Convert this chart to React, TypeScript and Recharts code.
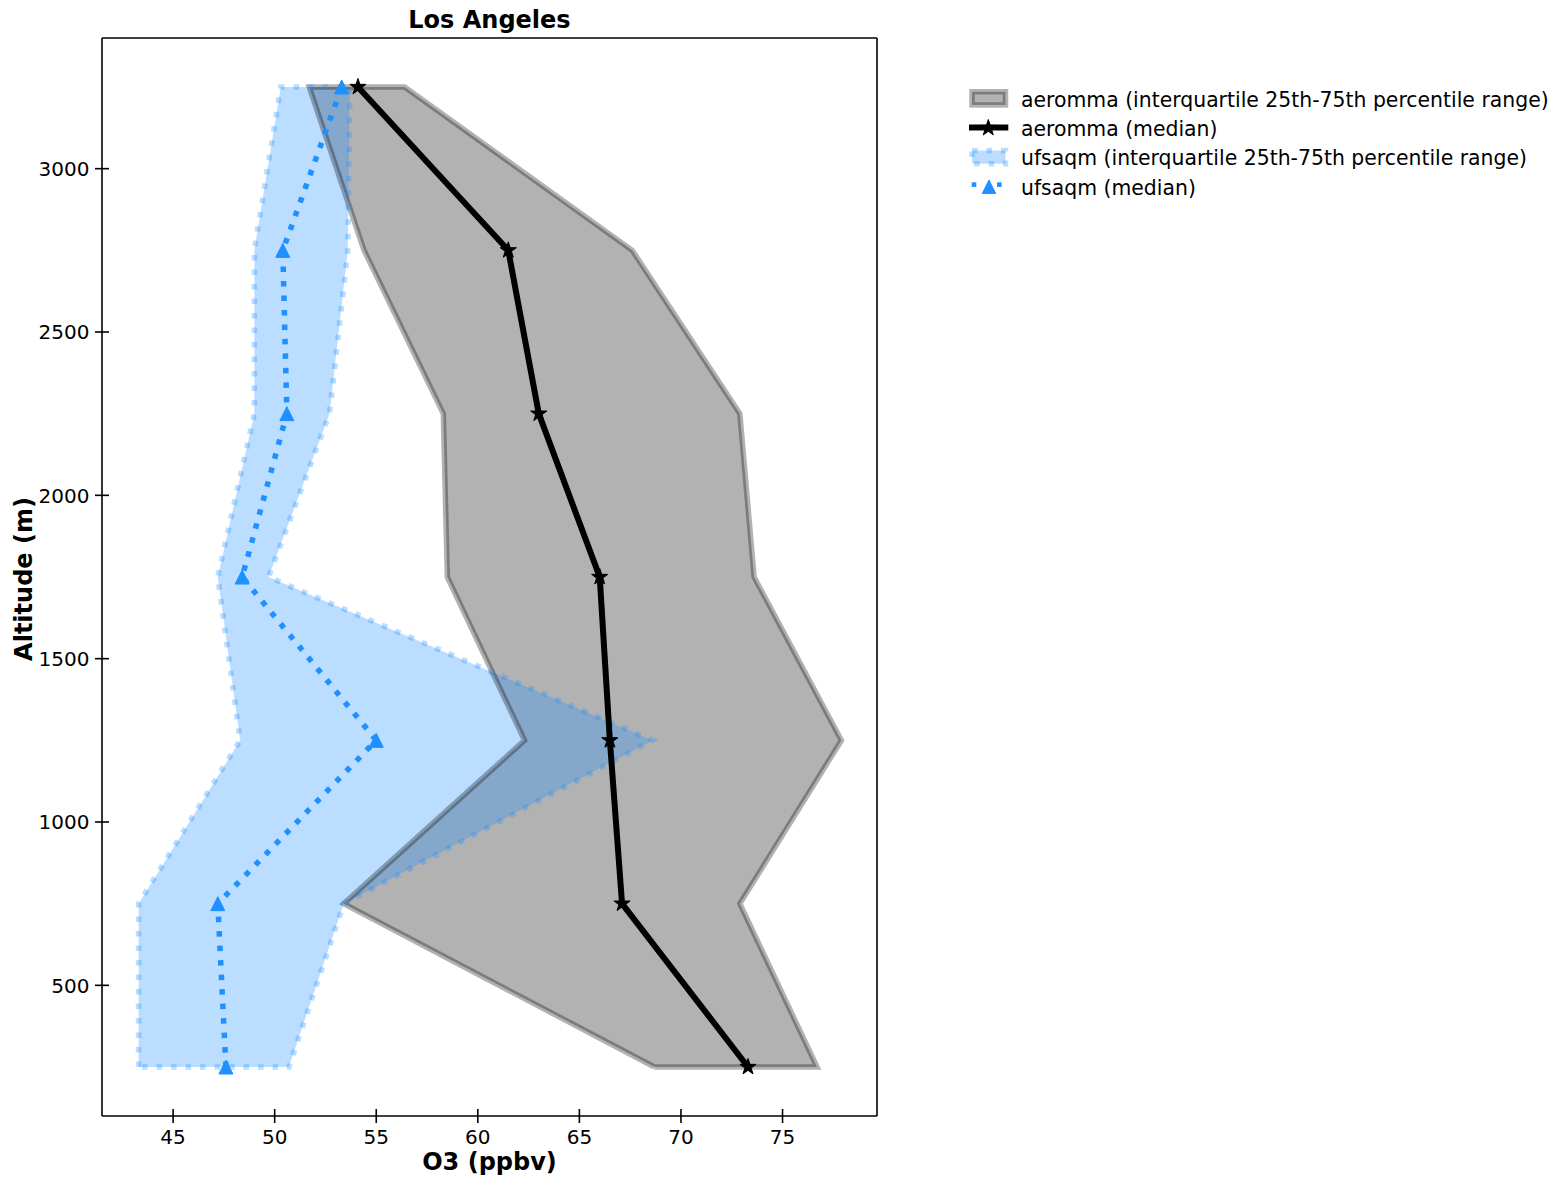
import { ComposedChart, Area, Line, XAxis, YAxis, ReferenceLine } from "recharts";

// altitude bins (m) and O3 values (ppbv)
const altitudes = [250, 750, 1250, 1750, 2250, 2750, 3250];
const aerommaLow = [68.7, 53.4, 62.3, 58.5, 58.3, 54.4, 51.7];
const aerommaHigh = [76.7, 72.9, 77.9, 73.6, 72.9, 67.6, 56.4];
const aerommaMedian = [73.3, 67.1, 66.5, 66.0, 63.0, 61.5, 54.1];
const ufsaqmLow = [43.3, 43.3, 48.3, 47.2, 49.0, 49.0, 50.3];
const ufsaqmHigh = [50.7, 53.4, 68.6, 49.7, 52.7, 53.6, 53.7];
const ufsaqmMedian = [47.6, 47.2, 55.0, 48.4, 50.6, 50.4, 53.3];

const xTicks = [45, 50, 55, 60, 65, 70, 75];
const yTicks = [500, 1000, 1500, 2000, 2500, 3000];
const xDomain = [41.5, 79.65];
const yDomain = [100, 3400];

const FONT = "DejaVu Sans, sans-serif";
const BLUE = "#1e90ff";

const rows = altitudes.map((alt, i) => ({
  alt,
  aerRange: [aerommaLow[i], aerommaHigh[i]],
  aerMed: aerommaMedian[i],
  ufsRange: [ufsaqmLow[i], ufsaqmHigh[i]],
  ufsMed: ufsaqmMedian[i],
}));

// closed outline of a fill_betweenx patch: low side up, high side down, back to start
const outline = (low: number[], high: number[]) => [
  ...altitudes.map((alt, i) => ({ alt, v: low[i] })),
  ...altitudes.map((alt, i) => ({ alt, v: high[i] })).reverse(),
  { alt: altitudes[0], v: low[0] },
];
const aerOutline = outline(aerommaLow, aerommaHigh);
const ufsOutline = outline(ufsaqmLow, ufsaqmHigh);

const starPoints = (cx: number, cy: number, R: number, r: number) =>
  Array.from({ length: 10 }, (_, k) => {
    const a = -Math.PI / 2 + (k * Math.PI) / 5;
    const rad = k % 2 === 0 ? R : r;
    return `${cx + rad * Math.cos(a)},${cy + rad * Math.sin(a)}`;
  }).join(" ");

const triPoints = (cx: number, cy: number, h: number) =>
  `${cx},${cy - h} ${cx - h},${cy + h} ${cx + h},${cy + h}`;

const StarDot = (p: any) => (
  <polygon key={`star-${p.index}`} points={starPoints(p.cx, p.cy, 8.5, 3.3)} fill="#000" stroke="#000" strokeWidth={1} />
);

const TriDot = (p: any) => (
  <polygon key={`tri-${p.index}`} points={triPoints(p.cx, p.cy, 7)} fill={BLUE} stroke={BLUE} strokeWidth={1} />
);

const XTick = (props: any) => {
  const { x, y, payload } = props;
  return (
    <g>
      <line x1={x} x2={x} y1={y - 7} y2={y + 7} stroke="#000" strokeWidth={1.6} />
      <text x={x} y={y + 27.5} textAnchor="middle" fontSize={20} fill="#000" fontFamily={FONT}>
        {payload.value}
      </text>
    </g>
  );
};

const YTick = (props: any) => {
  const { x, y, payload } = props;
  return (
    <g>
      <line x1={x - 7} x2={x + 7} y1={y} y2={y} stroke="#000" strokeWidth={1.6} />
      <text x={x - 12.5} y={y + 7.2} textAnchor="end" fontSize={20} fill="#000" fontFamily={FONT}>
        {payload.value}
      </text>
    </g>
  );
};

const XLabel = (props: any) => {
  const vb = props.viewBox ?? { x: 94, y: 1108, width: 775 };
  return (
    <text x={vb.x + vb.width / 2} y={vb.y + 54} textAnchor="middle" fontSize={24} fontWeight="bold" fontFamily={FONT} fill="#000">
      O3 (ppbv)
    </text>
  );
};

const YLabel = (props: any) => {
  const vb = props.viewBox ?? { x: 14, y: 30, height: 1078 };
  const cx = vb.x + 9.7;
  const cy = vb.y + vb.height / 2 + 2;
  return (
    <text x={cx} y={cy} transform={`rotate(-90 ${cx} ${cy})`} textAnchor="middle" fontSize={24} fontWeight="bold" fontFamily={FONT} fill="#000">
      Altitude (m)
    </text>
  );
};

const spine = { stroke: "#000", strokeWidth: 1.6 };

function LegendBox() {
  const labels = [
    "aeromma (interquartile 25th-75th percentile range)",
    "aeromma (median)",
    "ufsaqm (interquartile 25th-75th percentile range)",
    "ufsaqm (median)",
  ];
  const baselines = [27.2, 56.3, 85.4, 114.5];
  return (
    <svg width={600} height={130} style={{ position: "absolute", left: 953, top: 72 }}>
      <rect x={11} y={11.75} width={33.5} height={13.2} fill="#000" fillOpacity={0.3} stroke="#000" strokeOpacity={0.3} strokeWidth={5.5} />
      <line x1={8} x2={47.3} y1={47.6} y2={47.6} stroke="#000" strokeWidth={6} />
      <polygon points={starPoints(27.3, 48, 8.5, 3.3)} fill="#000" stroke="#000" strokeWidth={1} />
      <rect x={11} y={70.5} width={33.5} height={13.2} fill={BLUE} fillOpacity={0.3} stroke={BLUE} strokeOpacity={0.3} strokeWidth={5.5} strokeDasharray="5.5 9" />
      <rect x={10.7} y={102.3} width={4.6} height={4.6} fill={BLUE} />
      <rect x={36} y={102.3} width={4.6} height={4.6} fill={BLUE} />
      <polygon points={triPoints(28, 106.7, 6.7)} fill={BLUE} stroke={BLUE} strokeWidth={1} />
      {labels.map((t, i) => (
        <text key={t} x={60} y={baselines[i]} fontSize={20.4} fontFamily={FONT} fill="#000">
          {t}
        </text>
      ))}
    </svg>
  );
}

export default function App() {
  return (
    <div style={{ position: "relative", width: 1558, height: 1177, fontFamily: FONT }}>
      <div
        style={{
          position: "absolute",
          left: 94,
          top: 0,
          width: 775,
          textAlign: "center",
          fontSize: 24,
          lineHeight: "24px",
          fontWeight: "bold",
          color: "#000",
          zIndex: 1,
        }}
      >
        Los Angeles
      </div>
      <ComposedChart
        width={1558}
        height={1177}
        data={rows}
        layout="vertical"
        margin={{ top: 30, right: 689, bottom: 9, left: 14 }}
      >
        <XAxis
          type="number"
          domain={xDomain}
          allowDataOverflow
          ticks={xTicks}
          interval={0}
          height={60}
          tickSize={0}
          tickMargin={0}
          tickLine={false}
          axisLine={spine}
          tick={<XTick />}
          label={XLabel}
        />
        <YAxis
          type="number"
          dataKey="alt"
          domain={yDomain}
          allowDataOverflow
          reversed
          ticks={yTicks}
          interval={0}
          width={80}
          tickSize={0}
          tickMargin={0}
          tickLine={false}
          axisLine={spine}
          tick={<YTick />}
          label={YLabel}
        />

        <Area
          dataKey="aerRange"
          type="linear"
          fill="#000"
          fillOpacity={0.3}
          stroke="none"
          isAnimationActive={false}
          activeDot={false}
          dot={false}
        />
        <Line
          data={aerOutline}
          dataKey="v"
          type="linear"
          stroke="#000"
          strokeOpacity={0.3}
          strokeWidth={5.5}
          strokeLinejoin="miter"
          dot={false}
          activeDot={false}
          isAnimationActive={false}
        />
        <Area
          dataKey="ufsRange"
          type="linear"
          fill={BLUE}
          fillOpacity={0.3}
          stroke="none"
          isAnimationActive={false}
          activeDot={false}
          dot={false}
        />
        <Line
          data={ufsOutline}
          dataKey="v"
          type="linear"
          stroke={BLUE}
          strokeOpacity={0.3}
          strokeWidth={5.5}
          strokeDasharray="5.5 9"
          dot={false}
          activeDot={false}
          isAnimationActive={false}
        />
        <Line
          dataKey="aerMed"
          type="linear"
          stroke="#000"
          strokeWidth={6}
          dot={StarDot}
          activeDot={false}
          isAnimationActive={false}
        />
        <Line
          dataKey="ufsMed"
          type="linear"
          stroke={BLUE}
          strokeWidth={5.5}
          strokeDasharray="5.5 9"
          dot={TriDot}
          activeDot={false}
          isAnimationActive={false}
        />

        {/* top and right spines of the matplotlib box */}
        <ReferenceLine y={yDomain[1]} stroke="#000" strokeWidth={1.6} ifOverflow="visible" />
        <ReferenceLine x={xDomain[1]} stroke="#000" strokeWidth={1.6} ifOverflow="visible" />
      </ComposedChart>
      <LegendBox />
    </div>
  );
}
